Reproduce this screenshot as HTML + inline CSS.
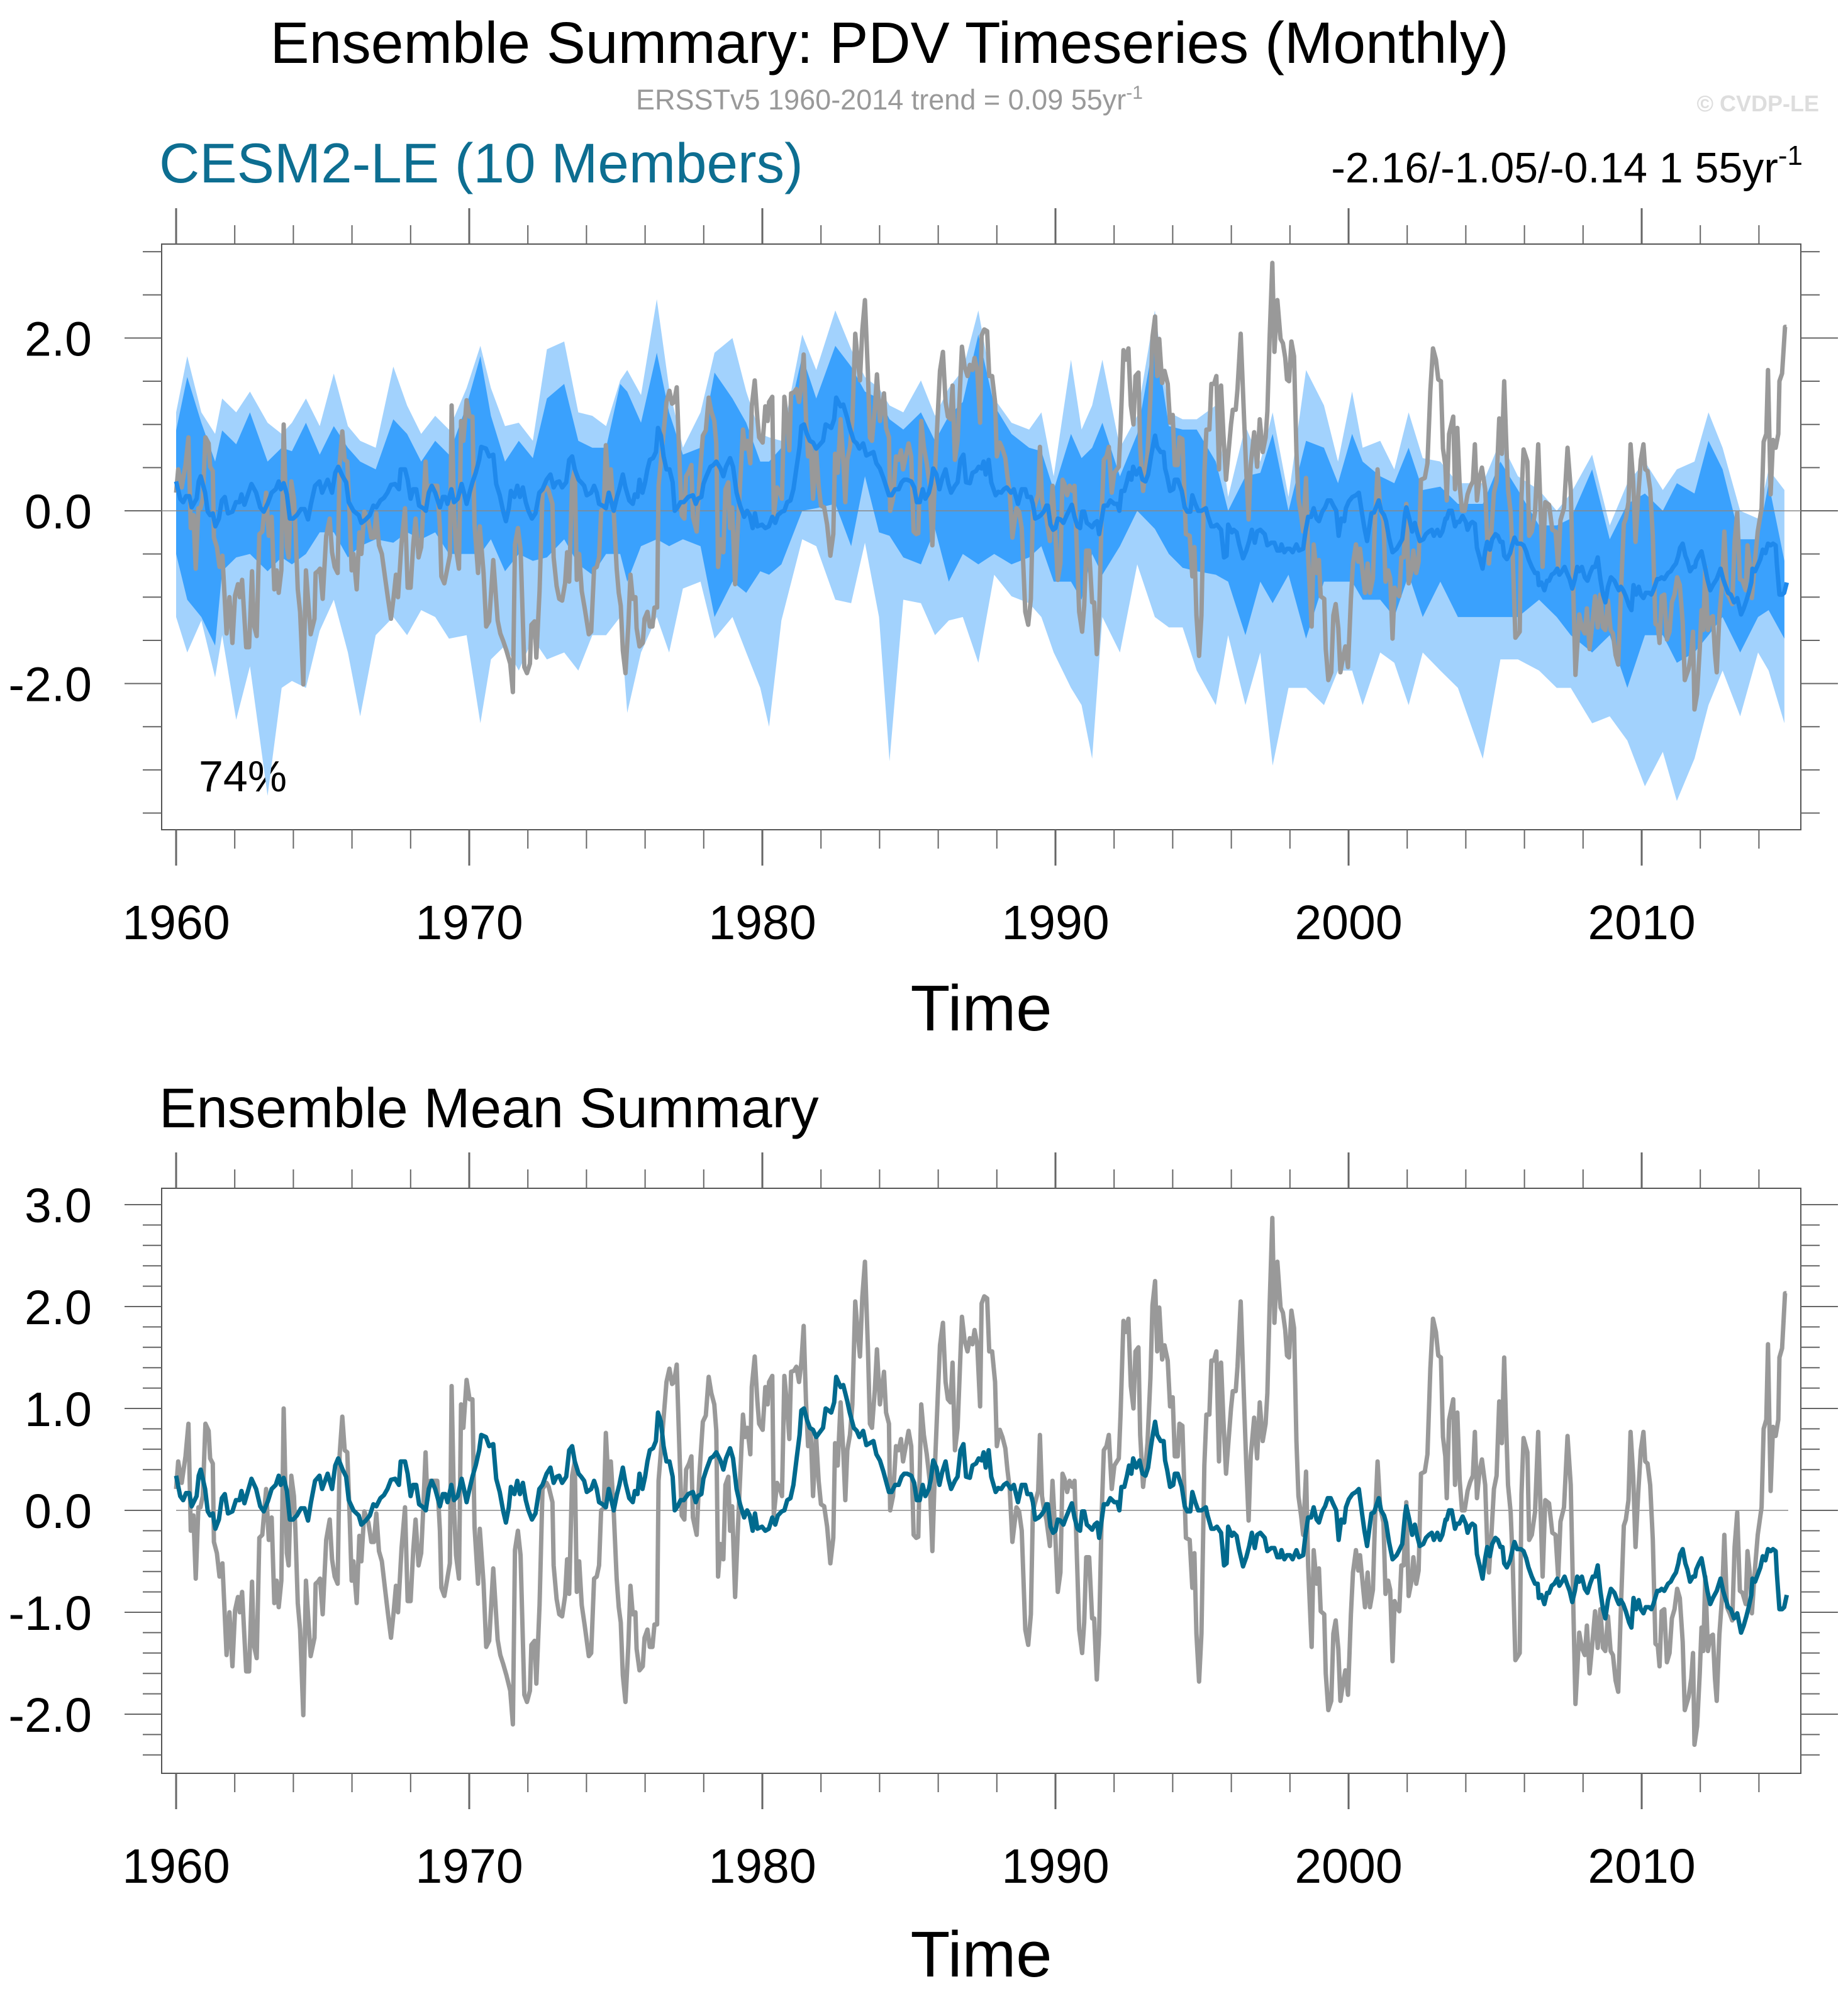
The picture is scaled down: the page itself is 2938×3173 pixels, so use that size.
<!DOCTYPE html>
<html><head><meta charset="utf-8">
<style>
html,body{margin:0;padding:0;background:#fff;}
svg{display:block;font-family:"Liberation Sans",Arial,sans-serif;}
</style></head>
<body>
<svg id="chart" xmlns="http://www.w3.org/2000/svg" width="2938" height="3173" viewBox="0 0 2938 3173">
<rect width="2938" height="3173" fill="#fff"/>
<text x="1414" y="100" font-size="93" text-anchor="middle" fill="#000">Ensemble Summary: PDV Timeseries (Monthly)</text>
<text x="1414" y="174" font-size="45" text-anchor="middle" fill="#999">ERSSTv5 1960-2014 trend = 0.09 55yr<tspan font-size="30" dy="-17">-1</tspan></text>
<text x="2892" y="177" font-size="36" font-weight="bold" text-anchor="end" fill="#ddd">© CVDP-LE</text>
<text x="253" y="290" font-size="89" fill="#0d6e91">CESM2-LE (10 Members)</text>
<text x="2866" y="290" font-size="68" text-anchor="end" fill="#000">-2.16/-1.05/-0.14 1 55yr<tspan font-size="44" dy="-28">-1</tspan></text>
<text x="316" y="1258" font-size="70" fill="#000">74%</text>
<text x="1560" y="1638" font-size="103" text-anchor="middle" fill="#000">Time</text>
<text x="253" y="1792" font-size="89" fill="#000">Ensemble Mean Summary</text>
<text x="1560" y="3142" font-size="103" text-anchor="middle" fill="#000">Time</text>
<g id="top"></g>
<g id="bottom"></g>
</svg>
<script>
// ---- data ----
const obsT=[0,.07,.19,.32,.42,.50,.59,.67,.76,.83,.91,1.00,1.11,1.16,1.25,1.29,1.39,1.48,1.58,1.72,1.82,1.92,2.01,2.11,2.17,2.25,2.39,2.49,2.59,2.65,2.75,2.84,2.94,3.07,3.16,3.26,3.35,3.43,3.50,3.59,3.67,3.78,3.84,3.93,4.02,4.07,4.15,4.23,4.34,4.43,4.50,4.59,4.72,4.76,4.84,4.91,5.00,5.12,5.24,5.32,5.41,5.51,5.58,5.67,5.75,5.84,5.91,5.99,6.05,6.16,6.25,6.32,6.42,6.56,6.66,6.75,6.83,6.92,7.02,7.14,7.23,7.33,7.42,7.50,7.57,7.69,7.81,7.90,8.00,8.09,8.17,8.27,8.36,8.43,8.51,8.57,8.67,8.76,8.91,9.00,9.05,9.15,9.24,9.34,9.40,9.48,9.55,9.65,9.72,9.80,9.91,10.01,10.11,10.18,10.30,10.36,10.49,10.58,10.68,10.82,10.97,11.06,11.16,11.27,11.40,11.49,11.56,11.66,11.75,11.88,11.97,12.07,12.12,12.23,12.29,12.40,12.50,12.64,12.71,12.84,12.88,12.98,13.07,13.17,13.27,13.34,13.41,13.51,13.60,13.67,13.75,13.84,13.94,14.08,
14.16,14.26,14.35,14.43,14.50,14.59,14.66,14.76,14.83,14.93,15.03,15.10,15.17,15.24,15.33,15.43,15.50,15.58,15.67,15.71,15.81,15.92,15.98,16.08,16.16,16.25,16.32,16.41,16.46,16.73,16.83,16.92,16.99,17.08,17.18,17.25,17.34,17.40,17.50,17.58,17.63,17.76,17.85,17.97,18.07,18.17,18.26,18.36,18.43,18.49,18.57,18.67,18.74,18.84,18.90,18.97,19.07,19.19,19.34,19.41,19.49,19.59,19.64,19.74,19.83,19.89,20.01,20.10,20.18,20.23,20.34,20.39,20.50,20.60,20.67,20.75,20.84,20.92,20.98,21.08,21.16,21.25,21.33,21.41,21.49,21.56,21.65,21.73,21.83,21.92,22.00,22.11,22.21,22.32,22.42,22.48,22.57,22.67,22.76,22.83,22.90,22.99,23.07,23.17,23.24,23.33,23.41,23.50,23.60,23.67,23.74,23.84,23.91,24.01,24.15,24.22,24.32,24.36,24.46,24.56,24.65,24.73,24.80,24.87,24.99,25.08,25.16,25.25,25.32,25.42,25.51,25.61,25.71,25.80,25.90,25.99,26.06,26.16,26.25,26.33,26.42,26.49,26.57,26.66,26.81,26.90,27.00,27.08,27.17,27.24,27.33,27.43,27.48,27.57,27.67,27.74,27.84,27.94,28.00,28.10,28.19,28.29,28.36,28.44,28.53,28.67,
28.76,28.85,28.97,29.07,29.16,29.23,29.31,29.41,29.47,29.54,29.62,29.69,29.81,29.90,29.98,30.08,30.17,30.24,30.31,30.40,30.48,30.58,30.65,30.74,30.81,30.91,30.98,31.05,31.15,31.25,31.32,31.41,31.49,31.58,31.65,31.74,31.82,31.92,32.01,32.16,32.22,32.32,32.40,32.49,32.57,32.66,32.73,32.83,32.89,32.99,33.07,33.14,33.24,33.31,33.40,33.47,33.54,33.64,33.72,33.83,33.91,34.00,34.07,34.17,34.23,34.33,34.45,34.58,34.67,34.74,34.81,34.90,34.98,35.08,35.15,35.25,35.32,35.41,35.49,35.58,35.65,35.73,35.82,35.89,35.99,36.05,36.15,36.21,36.32,36.42,36.51,36.59,36.66,36.78,36.88,36.97,37.07,37.17,37.23,37.31,37.40,37.47,37.57,37.68,37.76,37.84,37.90,37.97,38.05,38.14,38.22,38.29,38.38,38.45,38.55,38.62,38.74,38.81,38.91,38.99,39.05,39.17,39.22,39.31,39.41,39.48,39.56,39.65,39.72,39.82,39.89,39.98,40.08,40.15,40.25,40.33,40.39,40.49,40.56,40.65,40.73,40.83,40.90,40.99,41.08,41.19,41.26,41.35,41.42,41.50,41.57,41.64,41.73,41.80,41.88,41.97,42.05,42.15,42.21,42.31,42.39,42.47,42.60,42.69,42.79,42.88,42.98,43.06,43.15,43.22,43.30,
43.35,43.43,43.57,43.63,43.71,43.79,43.87,43.96,44.06,44.15,44.24,44.31,44.38,44.47,44.55,44.66,44.73,44.79,44.88,44.96,45.05,45.14,45.23,45.31,45.37,45.44,45.53,45.60,45.69,45.84,45.90,45.97,46.10,46.16,46.25,46.36,46.47,46.62,46.71,46.84,46.95,47.06,47.15,47.23,47.35,47.47,47.58,47.67,47.74,47.87,47.96,48.06,48.13,48.22,48.31,48.41,48.50,48.59,48.68,48.76,48.85,48.94,49.02,49.11,49.20,49.29,49.39,49.46,49.55,49.62,49.71,49.79,49.88,49.97,50.06,50.12,50.20,50.29,50.38,50.47,50.55,50.61,50.68,50.77,50.86,50.95,51.03,51.12,51.21,51.30,51.40,51.47,51.60,51.69,51.75,51.80,51.89,51.98,52.04,52.10,52.17,52.26,52.34,52.43,52.50,52.56,52.65,52.74,52.82,52.91,53.00,53.09,53.17,53.26,53.35,53.44,53.55,53.61,53.70,53.76,53.87,53.96,54.09,54.16,54.25,54.31,54.40,54.48,54.57,54.66,54.70,54.79,54.89,54.94];
const obsV=[.21,.48,.27,.53,.85,-.2,-.05,-.67,.03,.03,.14,.85,.78,.51,.46,-.31,-.42,-.65,-.52,-1.42,-1.0,-1.53,-.98,-.85,-1.0,-.8,-1.58,-1.58,-.7,-1.32,-1.45,-.27,-.24,.21,-.29,-.07,-.91,-.69,-.95,-.69,1.0,-.42,-.54,.34,.14,-.2,-.91,-1.17,-2.01,-.69,-1.02,-1.43,-1.25,-.72,-.7,-.67,-1.02,-.29,-.09,-.48,-.65,-.72,.55,.92,.59,.57,.03,-.69,-.5,-.91,-.25,-.5,-.01,-.12,-.31,-.31,-.03,-.4,-.5,-.8,-1.02,-1.25,-1.0,-.74,-1.0,-.37,.03,-.89,-.89,-.39,-.09,-.54,-.42,0,.57,.1,.29,.29,.29,-.2,-.76,-.84,-.69,-.52,1.22,.03,-.44,-.67,1.04,.81,1.28,1.09,1.09,-.16,-.72,-.18,-.72,-1.34,-1.28,-.57,-1.27,-1.42,-1.51,-1.62,-1.77,-2.1,-.39,-.2,-.44,-1.81,-1.88,-1.77,-1.32,-1.28,-1.7,-.93,.21,.27,.23,.08,-.54,-.87,-1.02,-1.04,-.84,-.48,-.82,.34,.48,-.8,-.5,-.93,-1.13,-1.43,
-1.4,-.67,-.65,-.54,0,.02,.76,.21,.48,-.01,-.67,-.95,-1.1,-1.62,-1.88,-1.32,-.74,-1.02,-1.0,-1.36,-1.57,-1.53,-1.25,-1.17,-1.34,-1.34,-1.12,-1.12,.29,1.26,1.39,1.24,1.26,1.43,.51,-.05,-.09,.4,.46,.53,-.07,-.24,.34,.87,.93,1.31,1.15,1.04,.78,-.65,-.33,-.48,.25,.33,-.2,.04,-.85,-.01,.94,.72,.81,.55,1.21,1.51,1.07,.85,.79,1.21,1.04,1.26,1.32,-.05,.27,.21,.14,1.32,1.04,.7,1.36,1.37,1.41,1.26,1.45,1.81,1.07,.63,.78,.14,.74,.29,.06,.04,-.16,-.52,-.27,.66,.44,1.06,.59,.1,.59,.74,1.04,2.05,1.79,1.51,2.09,2.44,1.6,.85,.81,1.19,1.58,1.04,1.36,.96,.85,0,.14,.63,.59,.7,.48,.59,.78,.63,-.24,-.27,-.26,1.04,.74,.55,.29,-.4,.51,1.15,1.62,1.84,1.26,1.09,1.06,1.45,.59,.81,1.9,1.67,1.56,1.69,1.63,1.77,1.63,1.02,2.03,2.1,2.08,1.56,1.56,1.26,.63,.79,.72,.61,.4,.21,-.31,.03,
-.01,-.2,-1.17,-1.32,-1.02,-.01,.08,.19,.74,.14,-.01,-.09,-.35,.29,-.16,-.8,-.61,.36,.31,.18,.29,.23,.29,-.54,-1.17,-1.4,-1.1,-.46,-.46,-1.06,-1.06,-1.66,-1.21,-.01,.59,.63,.74,.21,.44,.51,.94,1.86,1.75,1.88,1.22,1.0,1.56,1.6,.74,.23,.44,.66,1.3,2.01,2.25,1.56,1.99,1.48,1.62,1.47,1.02,1.11,.53,.53,.85,.83,-.27,-.29,-.76,-.42,-1.21,-1.68,-1.21,.44,.94,.94,1.47,1.47,1.56,.48,1.45,.89,.36,.63,1.0,1.17,1.17,1.41,2.05,1.19,.44,-.1,.53,.91,.51,1.06,.68,.85,1.15,2.03,2.87,1.84,2.44,1.99,1.94,1.77,1.52,1.5,1.96,1.79,.68,.14,-.05,-.24,.38,-.54,-1.34,-.39,-.72,-.57,-.99,-1.02,-1.6,-1.96,-1.87,-1.21,-1.08,-1.36,-1.87,-1.68,-1.57,-1.81,-1.02,-.61,-.39,-.59,-.44,-.74,-.95,-.61,-.95,-.78,-.12,.48,.03,-.12,-.82,-.69,-.78,-1.48,-.89,-.95,-.99,-.54,-.54,.08,-.84,-.69,-.46,-.72,-.59,.36,.38,.55,1.39,1.88,1.75,1.52,1.5,.72,.53,
.12,.89,1.09,.25,.96,.3,0,0,.19,.28,.34,.77,.12,.39,.5,.25,-.33,-.61,-.2,.21,.34,1.07,.66,1.5,.89,.25,-.02,-.52,-1.47,-1.4,.16,.71,.57,-.29,-.24,-.02,.77,-.65,.1,.07,-.22,-.24,-.65,-.11,.03,.73,.25,-.97,-1.9,-1.2,-1.35,-1.42,-1.13,-1.6,-1.33,-.99,-1.35,-.97,-1.35,-1.38,-1.04,-1.38,-1.42,-1.67,-1.78,-.97,-.15,-.09,.1,.77,.34,-.36,.16,.59,.77,.48,.46,.25,-.29,-1.31,-1.33,-1.53,-.99,-.97,-1.49,-1.4,-1.06,-.97,-.77,-.86,-1.29,-1.96,-1.83,-1.65,-1.4,-2.3,-2.12,-1.6,-1.15,-1.38,-.65,-1.38,-1.24,-1.22,-1.65,-1.87,-1.22,-.86,-.24,-.95,-1.01,-1.08,-.36,-.02,-.79,-.81,-.92,-.4,-.65,-1.01,-.56,-.24,.03,.8,.89,1.63,.19,.82,.73,.89,1.5,1.59,2.13,2.13];
const meanT=[0,.14,.24,.34,.45,.53,.70,.77,.84,.99,1.08,1.16,1.25,1.34,1.46,1.56,1.66,1.77,1.92,2.04,2.16,2.23,2.33,2.42,2.57,2.73,2.87,2.99,3.13,3.26,3.40,3.50,3.57,3.67,3.78,3.88,3.99,4.12,4.26,4.38,4.50,4.60,4.74,4.89,4.98,5.17,5.32,5.43,5.53,5.68,5.80,5.89,6.05,6.23,6.32,6.47,6.61,6.73,6.83,6.97,7.09,7.21,7.33,7.47,7.60,7.66,7.81,7.90,8.00,8.09,8.19,8.29,8.43,8.52,8.62,8.72,8.84,9.00,9.10,9.18,9.26,9.39,9.48,9.61,9.74,9.82,9.91,10.01,10.11,10.22,10.34,10.41,10.57,10.68,10.82,10.92,11.04,11.16,11.25,11.35,11.42,11.54,11.64,11.73,11.83,11.93,12.02,12.14,12.26,12.39,12.50,12.64,12.77,12.88,12.98,13.07,13.17,13.31,13.41,13.51,13.60,13.73,13.82,13.92,14.01,
14.16,14.26,14.35,14.43,14.55,14.66,14.76,14.85,14.93,15.04,15.12,15.24,15.33,15.46,15.58,15.65,15.74,15.81,15.91,16.00,16.08,16.16,16.27,16.37,16.44,16.54,16.63,16.73,16.83,16.94,17.01,17.11,17.21,17.32,17.47,17.63,17.73,17.80,17.92,17.99,18.09,18.23,18.33,18.43,18.57,18.67,18.76,18.90,19.00,19.12,19.24,19.38,19.48,19.57,19.67,19.75,19.83,19.99,20.10,20.22,20.34,20.44,20.53,20.66,20.75,20.85,20.96,21.06,21.17,21.27,21.33,21.42,21.52,21.62,21.73,21.84,21.94,22.07,22.16,22.26,22.35,22.45,22.52,22.67,22.76,22.90,22.98,23.12,23.22,23.31,23.44,23.55,23.67,23.79,23.89,24.01,24.13,24.32,24.41,24.53,24.65,24.75,24.84,24.94,25.08,25.18,25.27,25.37,25.47,25.56,25.68,25.75,25.83,25.94,26.04,26.14,26.25,26.35,26.44,26.57,26.66,26.76,26.86,26.95,27.08,27.17,27.29,27.38,27.48,27.55,27.62,27.72,27.81,27.96,28.05,28.15,28.24,28.34,28.48,28.58,28.72,
28.85,28.97,29.04,29.16,29.23,29.31,29.43,29.50,29.60,29.69,29.74,29.83,29.92,30.00,30.08,30.17,30.27,30.36,30.46,30.56,30.65,30.75,30.84,30.91,30.98,31.07,31.15,31.25,31.34,31.42,31.49,31.58,31.65,31.77,31.87,32.01,32.11,32.18,32.25,32.35,32.44,32.51,32.59,32.65,32.76,32.87,32.97,33.07,33.16,33.26,33.33,33.40,33.47,33.59,33.69,33.74,33.81,33.91,34.02,34.07,34.17,34.31,34.41,34.50,34.60,34.67,34.77,34.87,34.98,35.13,35.19,35.32,35.41,35.51,35.60,35.65,35.75,35.84,35.89,36.02,36.08,36.18,36.27,36.40,36.51,36.61,36.70,36.80,36.88,36.99,37.14,37.23,37.36,37.47,37.57,37.66,37.71,37.81,37.90,38.00,38.09,38.22,38.31,38.45,38.53,38.62,38.72,38.81,38.91,38.99,39.10,39.20,39.29,39.39,39.48,39.58,39.66,39.75,39.85,39.91,40.01,40.13,40.25,40.35,40.46,40.54,40.63,40.78,40.87,41.03,41.11,41.21,41.28,41.38,41.50,41.64,41.73,41.83,41.93,41.97,42.07,42.17,42.26,42.34,42.43,42.55,42.64,42.74,42.84,42.91,43.03,43.12,43.20,43.31,
43.35,43.43,43.52,43.63,43.70,43.78,43.89,44.00,44.06,44.15,44.22,44.31,44.38,44.47,44.57,44.66,44.73,44.82,44.90,45.01,45.09,45.18,45.25,45.31,45.40,45.51,45.58,45.66,45.75,45.88,45.97,46.06,46.14,46.25,46.36,46.45,46.49,46.58,46.68,46.77,46.84,46.93,47.02,47.12,47.19,47.28,47.37,47.45,47.54,47.63,47.72,47.80,47.87,47.96,48.06,48.15,48.24,48.33,48.41,48.50,48.59,48.68,48.76,48.85,48.95,49.07,49.16,49.22,49.29,49.37,49.46,49.57,49.65,49.72,49.81,49.90,49.97,50.06,50.14,50.25,50.33,50.40,50.53,50.60,50.68,50.77,50.90,50.99,51.08,51.17,51.25,51.31,51.40,51.49,51.56,51.65,51.75,51.82,51.86,51.95,52.04,52.17,52.24,52.34,52.43,52.56,52.69,52.78,52.85,52.95,53.04,53.15,53.26,53.39,53.48,53.57,53.65,53.74,53.78,53.87,53.96,54.05,54.13,54.22,54.31,54.40,54.48,54.57,54.61,54.70,54.79,54.86,54.95];
const meanV=[.34,.14,.1,.17,.17,.04,.14,.34,.4,.21,-.01,-.05,-.03,-.18,-.09,.12,.16,-.03,-.01,.1,.1,.19,.07,.16,.31,.21,.04,-.01,.09,.21,.25,.34,.25,.32,.19,-.09,-.09,-.05,.02,.02,-.1,.08,.29,.34,.21,.36,.21,.44,.51,.4,.33,.1,0,-.05,-.14,-.1,-.05,.06,.04,.12,.15,.21,.3,.31,.25,.48,.48,.36,.14,.25,.25,.06,.03,0,.21,.29,.21,.04,.16,.16,.08,.25,.1,.14,.31,.21,.08,.21,.33,.44,.59,.74,.72,.63,.65,.31,.18,-.01,-.12,.03,.23,.16,.29,.16,.27,.1,0,-.09,-.03,.21,.25,.36,.42,.27,.33,.34,.27,.33,.59,.63,.48,.36,.33,.29,.18,
.21,.29,.21,.08,.06,.03,.21,.1,0,.16,.25,.42,.27,.12,.08,.19,.16,.36,.21,.33,.48,.59,.61,.68,.96,.87,.63,.48,.48,.33,0,.04,.1,.1,.16,.18,.08,.14,.16,.31,.4,.51,.53,.57,.49,.4,.51,.61,.51,.21,.06,-.07,0,-.05,-.2,-.03,-.18,-.16,-.2,-.18,-.07,-.14,-.05,-.01,0,.1,.12,.25,.51,.74,.98,1.0,.89,.81,.79,.72,.76,.81,1.0,.98,.96,1.06,1.31,1.21,1.23,1.07,.96,.81,.78,.72,.78,.64,.66,.68,.55,.49,.38,.18,.18,.25,.25,.33,.36,.36,.34,.27,.1,.1,.25,.14,.21,.31,.49,.42,.25,.38,.48,.31,.21,.29,.33,.59,.65,.33,.32,.44,.46,.51,.49,.57,.42,.59,.33,.18,.22,.21,.25,.27,.21,.25,.08,
.25,.25,.16,.16,.08,-.09,-.07,-.05,-.01,.06,.06,-.16,-.22,-.2,-.09,-.1,-.14,-.07,0,.07,-.07,-.18,-.2,-.01,-.01,-.14,-.16,-.19,-.14,-.12,-.27,-.09,.06,.06,.12,.08,.08,0,.23,.23,.34,.44,.36,.51,.42,.49,.36,.34,.42,.63,.76,.87,.74,.68,.68,.49,.4,.23,.25,.36,.36,.23,.04,-.01,-.01,.18,.08,0,0,.03,-.05,-.18,-.18,-.16,-.2,-.22,-.54,-.52,-.16,-.25,-.22,-.25,-.39,-.55,-.46,-.35,-.22,-.37,-.24,-.22,-.27,-.4,-.37,-.37,-.46,-.46,-.39,-.48,-.44,-.44,-.48,-.39,-.46,-.44,-.24,-.07,-.07,.03,-.09,-.12,-.01,.04,.12,.12,.06,0,-.29,-.09,-.12,.03,.11,.16,.18,.21,-.03,-.2,-.35,-.03,-.02,.12,0,-.05,-.12,-.31,-.48,-.44,-.39,-.33,-.03,.04,-.09,-.24,-.14,-.25,-.35,-.33,-.27,-.24,-.22,-.29,-.22,-.29,-.24,-.09,
-.09,0,0,-.18,-.13,-.13,-.06,-.13,-.22,-.15,-.13,-.15,-.43,-.54,-.67,-.47,-.36,-.45,-.33,-.27,-.29,-.36,-.36,-.52,-.56,-.49,-.4,-.31,-.38,-.38,-.4,-.47,-.56,-.65,-.72,-.72,-.86,-.83,-.92,-.81,-.81,-.74,-.72,-.67,-.74,-.7,-.65,-.72,-.79,-.9,-.79,-.65,-.7,-.65,-.77,-.81,-.72,-.65,-.65,-.54,-.79,-.97,-1.06,-.88,-.77,-.81,-.88,-.92,-.88,-.92,-.99,-1.1,-1.15,-.86,-.97,-.88,-.97,-1.01,-.95,-.95,-.97,-.92,-.79,-.79,-.77,-.79,-.72,-.7,-.65,-.61,-.52,-.43,-.38,-.52,-.58,-.7,-.65,-.65,-.58,-.52,-.47,-.67,-.79,-.92,-.86,-.79,-.67,-.79,-.86,-.95,-.97,-1.06,-1.01,-1.2,-1.13,-1.04,-.95,-.83,-.67,-.7,-.63,-.56,-.45,-.49,-.38,-.4,-.38,-.4,-.61,-.97,-.97,-.95,-.83];
const bandT=[1960.0,1960.38,1960.86,1961.33,1961.57,1962.05,1962.52,1963.12,1963.6,1963.95,1964.43,1964.9,1965.38,1965.86,1966.28,1966.81,1967.41,1967.88,1968.36,1968.84,1969.31,1969.91,1970.38,1970.74,1971.22,1971.69,1972.17,1972.65,1973.24,1973.72,1974.2,1974.67,1975.15,1975.39,1975.86,1976.4,1976.82,1977.29,1977.89,1978.37,1978.98,1979.45,1979.93,1980.23,1980.65,1981.36,1981.84,1982.49,1983.03,1983.5,1983.98,1984.34,1984.81,1985.41,1985.89,1986.36,1986.84,1987.37,1987.91,1988.5,1989.1,1989.52,1989.94,1990.53,1990.89,1991.25,1991.6,1992.2,1992.79,1993.39,1993.87,1994.34,1994.82,1995.47,1995.89,1996.48,1996.99,1997.41,1997.95,1998.55,1999.16,1999.64,2000.12,2000.48,2001.08,2001.56,2002.05,2002.53,2003.13,2003.73,2004.58,2005.18,2005.78,2006.5,2007.1,2007.58,2008.31,2008.91,2009.51,2010.11,2010.72,2011.2,2011.8,2012.28,2012.76,2013.36,2013.97,2014.33,2014.87];
const bandMax=[1.14,1.79,1.14,.89,1.3,1.14,1.38,1.02,.89,1.02,1.3,.98,1.59,.98,.81,.73,1.67,1.22,.89,1.1,.94,1.42,1.91,1.42,.98,1.02,.81,1.87,1.96,1.14,1.1,.98,1.51,1.63,1.34,2.45,1.42,.73,1.14,1.83,2.0,1.38,.89,.85,.81,2.04,1.63,2.32,1.87,1.55,1.42,1.22,1.14,1.51,1.1,1.42,1.63,2.32,1.3,1.02,.94,1.14,.4,1.75,.94,1.22,1.75,.73,1.1,2.32,1.14,1.06,1.06,1.22,.16,.98,.57,1.14,.16,1.63,1.22,.57,1.38,.73,.81,.48,1.14,.61,.57,.32,.32,.81,.4,.24,0,.2,.65,-.17,.32,.57,.24,.48,.57,1.14,.73,0,-.09,.48,.24];
const bandHi=[.93,1.55,1.02,.57,.93,.77,1.14,.57,.73,.69,1.02,.65,.98,.73,.57,.48,1.06,.89,.57,.81,.65,1.22,1.79,1.1,.57,.81,.61,1.3,1.47,.81,.73,.73,1.47,1.38,1.02,1.83,1.14,.65,.73,1.6,1.3,1.02,.57,.57,.73,1.79,1.3,1.91,1.67,1.38,1.3,1.06,.94,1.14,.81,1.1,1.26,2.04,1.22,.89,.73,.69,.24,.89,.61,.73,1.02,.4,.89,2.04,.98,.94,.94,.57,0,.4,.44,.89,0,.81,.73,.32,.89,.57,.4,.32,.73,.24,.28,.08,.08,.57,.24,-.17,-.17,-.09,.48,-.33,.08,.2,0,.32,.2,.81,.48,-.33,-.33,.32,-.58];
const bandLo=[-.5,-1.03,-1.23,-1.56,-.7,-.54,-.5,-.7,-.54,-.62,-.5,-.25,-.25,-.54,-.41,-.33,-.37,-.25,-.33,-.25,-.5,-.5,-.5,-.33,-.7,-.5,-.58,-.54,-.33,-.62,-.74,-.5,-.5,-.82,-.41,-.33,-.41,-.33,-.41,-1.23,-.82,-.95,-.7,-.74,-.62,0,.03,.08,-.41,.4,-.25,-.29,-.54,-.62,-.21,-.82,-.5,-.62,-.5,-.62,-.54,-.41,-.82,-.82,-1.03,-.5,-.74,-.41,0,-.21,-.5,-.66,-.7,-.74,-.82,-1.44,-.82,-1.07,-.74,-1.48,-.82,-.82,-.82,-1.03,-1.03,-1.23,-.74,-1.23,-.82,-1.23,-1.23,-1.23,-1.23,-1.03,-1.23,-1.44,-1.64,-1.44,-2.05,-1.44,-1.44,-1.76,-1.64,-1.44,-1.23,-1.64,-1.23,-1.15,-1.48];
const bandMin=[-1.23,-1.64,-1.27,-1.93,-1.44,-2.42,-1.8,-3.3,-2.05,-1.97,-2.05,-1.39,-1.03,-1.64,-2.38,-1.44,-1.23,-1.44,-1.15,-1.23,-1.48,-1.44,-2.46,-1.72,-1.56,-1.85,-1.48,-1.72,-1.64,-1.85,-1.44,-1.44,-1.23,-2.34,-1.64,-1.23,-1.64,-.9,-.82,-1.48,-1.23,-1.64,-2.05,-2.5,-1.27,-.33,-.41,-1.03,-1.07,-.37,-1.23,-2.9,-1.03,-1.07,-1.44,-1.27,-1.23,-1.76,-.74,-.99,-1.07,-1.23,-1.64,-2.05,-2.25,-2.87,-1.23,-1.64,-.62,-1.23,-1.35,-1.35,-1.85,-2.25,-1.44,-2.25,-1.64,-2.95,-2.05,-2.05,-2.25,-1.85,-1.85,-2.25,-1.64,-1.76,-2.25,-1.64,-1.85,-2.05,-2.87,-1.72,-1.72,-1.85,-2.05,-2.05,-2.46,-2.38,-2.66,-3.19,-2.79,-3.36,-2.87,-2.25,-1.85,-2.38,-1.64,-1.85,-2.46];
const xMajorTicks=[1960,1970,1980,1990,2000,2010];
const topYTicks=[-2,0,2];
const botYTicks=[-2,-1,0,1,2,3];

// ---- layout ----
const NS='http://www.w3.org/2000/svg';
const X0=280, PXY=46.6, FL=257, FR=2863;
const xs=y=>X0+(y-1960)*PXY;
const P1={top:388,bot:1319,zero:812,unit:137.3,minorStep:0.5,tickFmt:v=>v.toFixed(1)};
const P2={top:1889,bot:2819,zero:2401,unit:162,minorStep:0.2,tickFmt:v=>v.toFixed(1)};
const ys=(P,v)=>P.zero-v*P.unit;
function el(tag,attrs,parent){const e=document.createElementNS(NS,tag);for(const k in attrs)e.setAttribute(k,attrs[k]);parent.appendChild(e);return e;}
function linePath(P,T,V,off){let d='';for(let i=0;i<T.length;i++){d+=(i?'L':'M')+xs(T[i]+off).toFixed(1)+' '+ys(P,V[i]).toFixed(1);}return d;}
function bandPath(P,hi,lo){let d='';for(let i=0;i<bandT.length;i++)d+=(i?'L':'M')+xs(bandT[i]).toFixed(1)+' '+ys(P,hi[i]).toFixed(1);for(let i=bandT.length-1;i>=0;i--)d+='L'+xs(bandT[i]).toFixed(1)+' '+ys(P,lo[i]).toFixed(1);return d+'Z';}

function axes(P,g,majors,name){
  const frame=el('rect',{x:FL,y:P.top,width:FR-FL,height:P.bot-P.top,fill:'none',stroke:'#555','stroke-width':2},g);
  
  
  for(let yr=1960;yr<=2014;yr+=2){
    const maj=(yr%10===0);const L=maj?57:30;const x=xs(yr);
    const t1=el('line',{x1:x,x2:x,y1:P.top-L,y2:P.top,stroke:'#666','stroke-width':maj?3:2},g);
    
    
    const t2=el('line',{x1:x,x2:x,y1:P.bot,y2:P.bot+L,stroke:'#666','stroke-width':maj?3:2},g);
    
    
  }
  const vmax=(P.zero-P.top)/P.unit, vmin=(P.zero-P.bot)/P.unit;
  const n0=Math.ceil(vmin/P.minorStep-1e-6), n1=Math.floor(vmax/P.minorStep+1e-6);
  for(let n=n0;n<=n1;n++){
    const v=n*P.minorStep;const maj=majors.some(m=>Math.abs(m-v)<1e-6);const L=maj?59:30;const y=ys(P,v);
    const a=el('line',{x1:FL-L,x2:FL,y1:y,y2:y,stroke:'#666','stroke-width':2},g);
    
    
    const b=el('line',{x1:FR,x2:FR+L,y1:y,y2:y,stroke:'#666','stroke-width':2},g);
    
    
  }
  majors.forEach(v=>{
    const t=el('text',{x:146,y:ys(P,v)+28,'font-size':77,'text-anchor':'end',fill:'#000'},g);
    t.textContent=P.tickFmt(v);
    
    
  });
  const labY=P.bot+174;
  xMajorTicks.forEach(yr=>{
    const t=el('text',{x:xs(yr),y:labY,'font-size':77,'text-anchor':'middle',fill:'#000'},g);
    t.textContent=String(yr);
    
    
  });
  const z=el('line',{x1:name==='top'?FL:X0,x2:name==='top'?FR:2843,y1:ys(P,0),y2:ys(P,0),stroke:'#888','stroke-width':1.5},g);
  
  
}

const gTop=document.getElementById('top');
const gBot=document.getElementById('bottom');

const lb=el('path',{d:bandPath(P1,bandMax,bandMin),fill:'#a2d2fd',stroke:'none'},gTop);


const db=el('path',{d:bandPath(P1,bandHi,bandLo),fill:'#3aa1fd',stroke:'none'},gTop);


axes(P1,gTop,topYTicks,'top');
const o1=el('path',{d:linePath(P1,obsT,obsV,1960),fill:'none',stroke:'#999','stroke-width':7,'stroke-linejoin':'round'},gTop);


const m1=el('path',{d:linePath(P1,meanT,meanV,1960),fill:'none',stroke:'#1f89ec','stroke-width':7,'stroke-linejoin':'round'},gTop);



axes(P2,gBot,botYTicks,'bottom');
const o2=el('path',{d:linePath(P2,obsT,obsV,1960),fill:'none',stroke:'#999','stroke-width':7,'stroke-linejoin':'round'},gBot);


const m2=el('path',{d:linePath(P2,meanT,meanV,1960),fill:'none',stroke:'#006a8e','stroke-width':7,'stroke-linejoin':'round'},gBot);


</script>
</body></html>
